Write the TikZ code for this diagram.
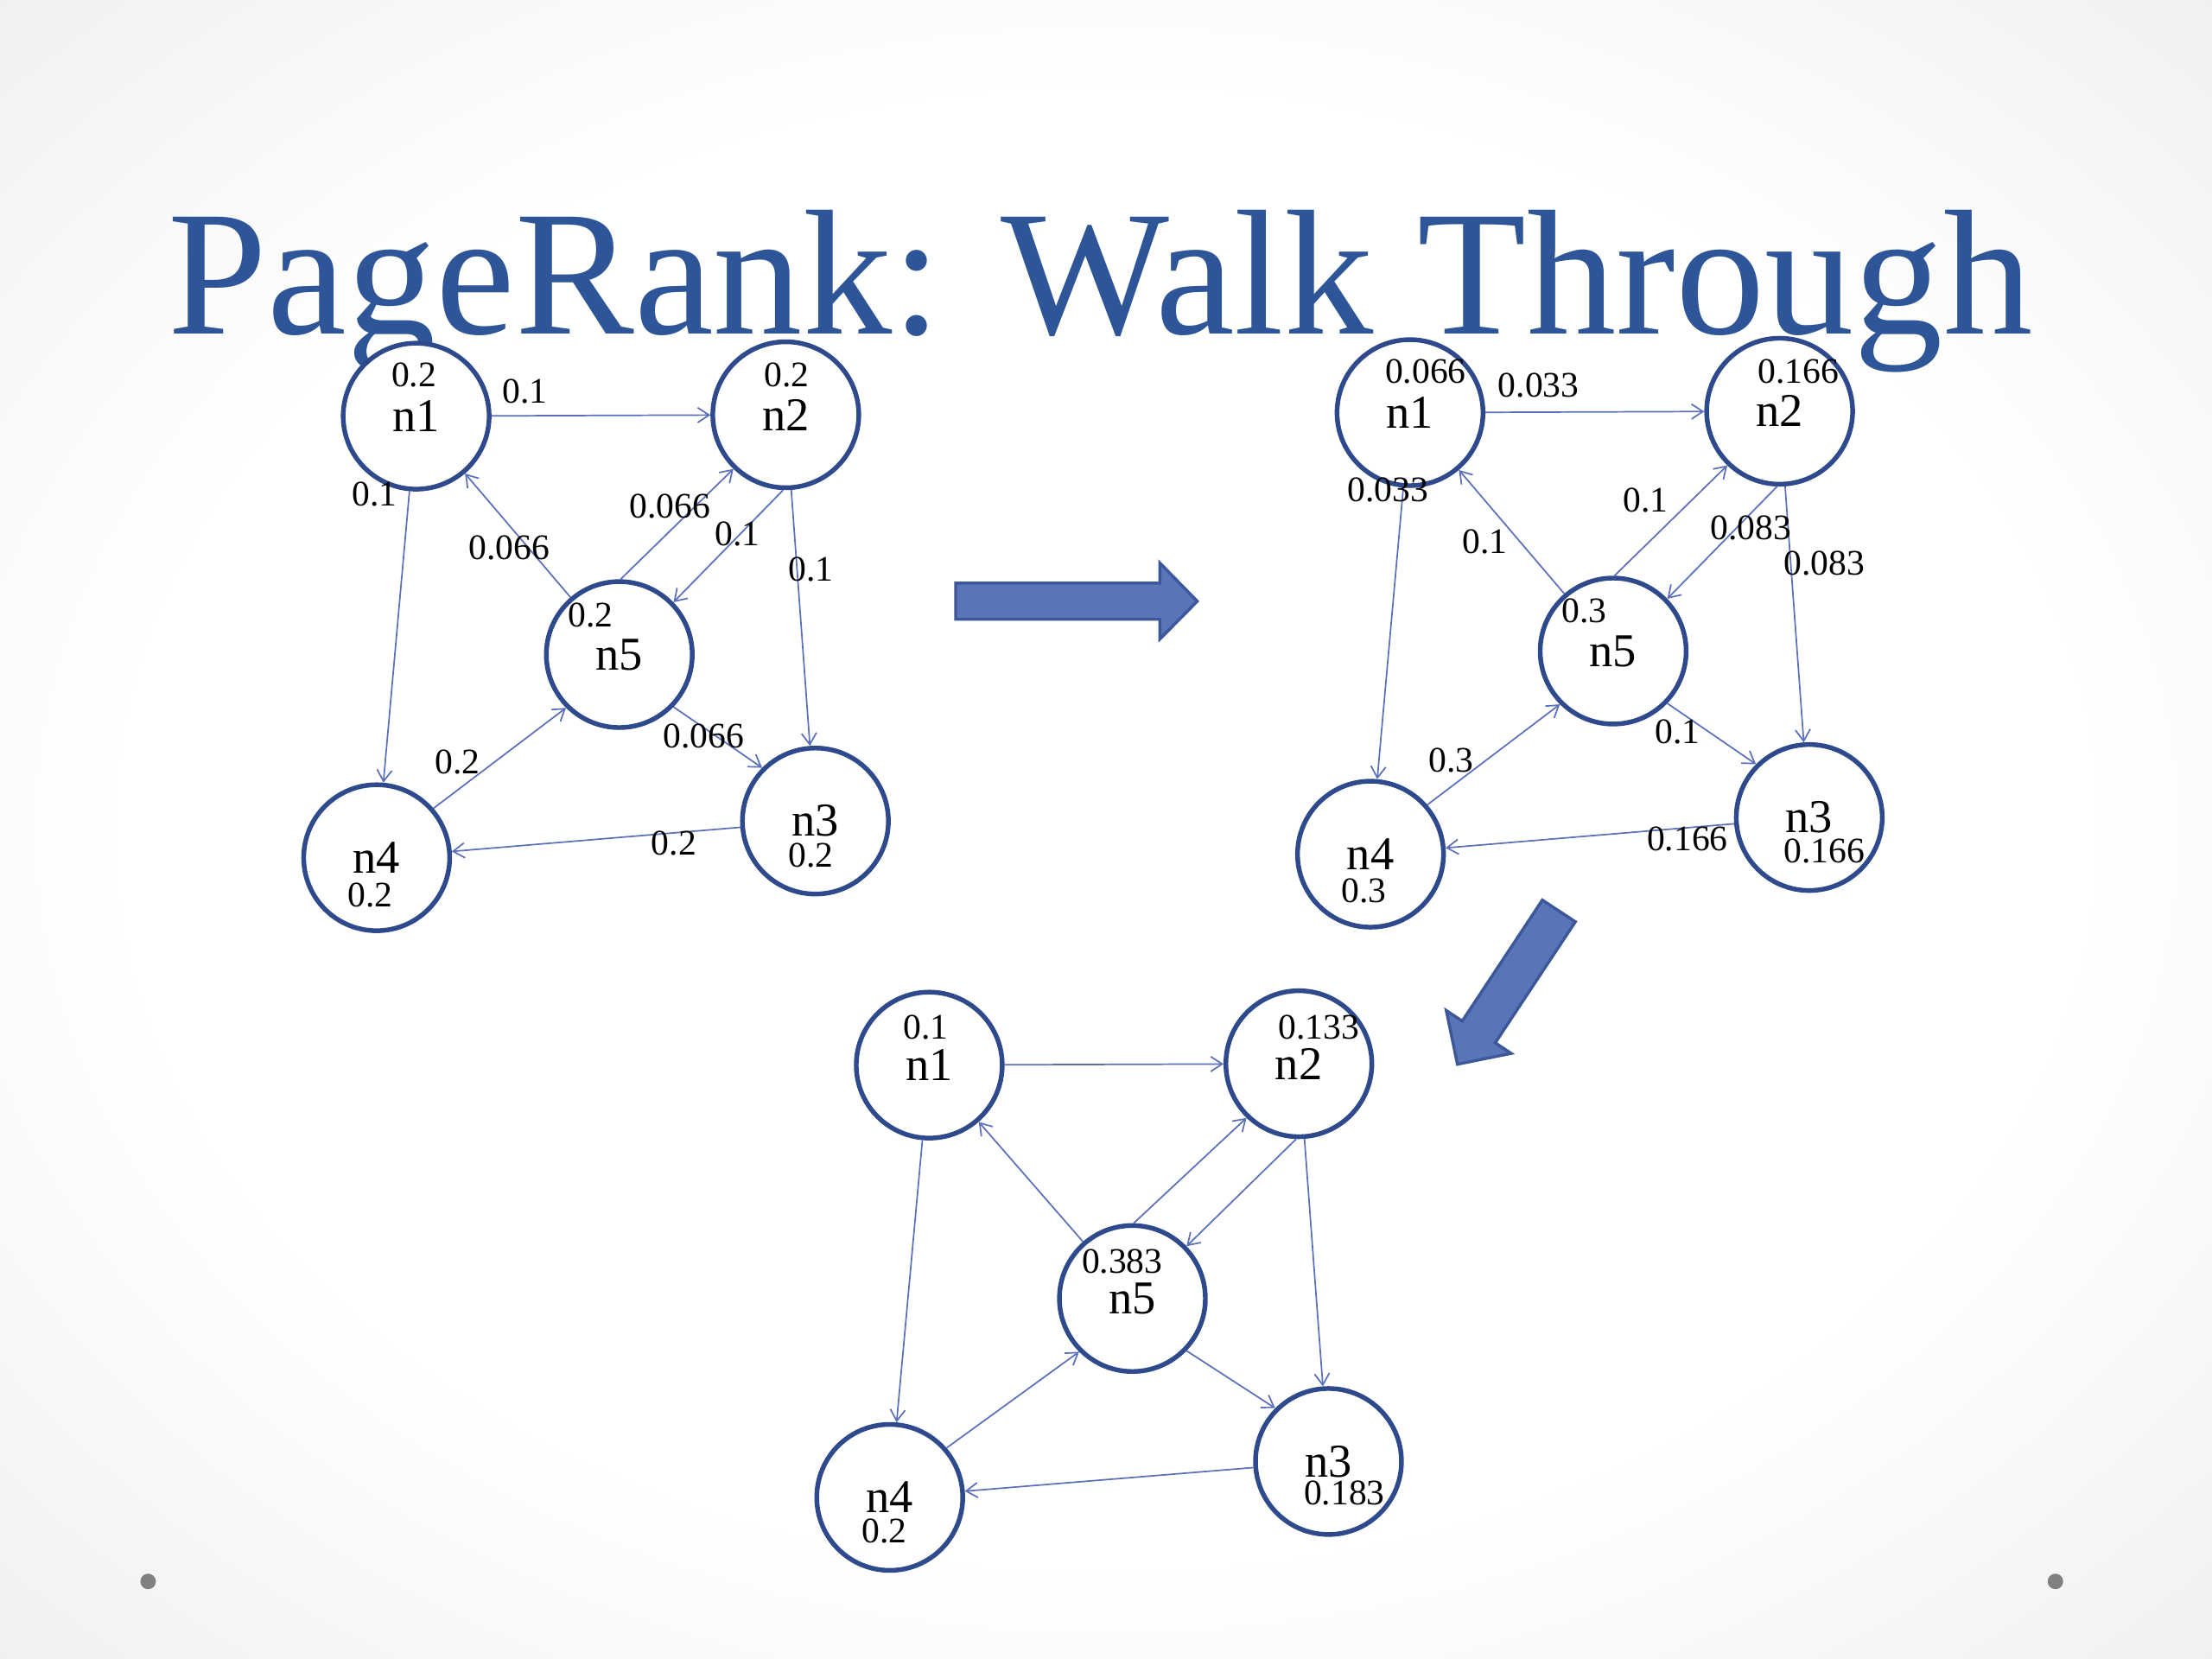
\documentclass[tikz,border=0pt]{standalone}
\usepackage{fontspec}
\newfontfamily\numfont{Liberation Serif}
\usepackage{tikz}
\usetikzlibrary{arrows.meta}
\definecolor{ring}{HTML}{2F4A8C}
\definecolor{edge}{HTML}{5B6FBA}
\definecolor{titleblue}{HTML}{2E5597}
\definecolor{blockfill}{HTML}{5A74BA}
\definecolor{blockline}{HTML}{3D5899}
\definecolor{dotgray}{HTML}{808080}
\pgfdeclareradialshading{slidebg}{\pgfpoint{0bp}{0bp}}{color(0bp)=(white); color(22bp)=(white); color(50bp)=(black!12); color(71bp)=(black!22)}

\tikzset{
 page/.style={circle,draw=ring,line width=1.9pt,fill=white,minimum size=2.07cm,
  inner sep=0pt,font=\numfont\fontsize{19}{21}\selectfont},
 link/.style={edge,line width=0.6pt,->},
 val/.style={inner sep=0pt,font=\numfont\fontsize{14.5}{16}\selectfont},
 bigarrow/.style={fill=blockfill,draw=blockline,line width=1.2pt,line join=miter},
}

% the five pages and their links, #1 is a prefix for the node names
\newcommand{\webgraph}[1]{%
 \node[page] (#1n1) at (295,295) {n1};
 \node[page] (#1n2) at (557,294) {n2};
 \node[page] (#1n5) at (439,464) {n5};
 \node[page] (#1n4) at (267,608) {n4};
 \node[page] (#1n3) at (578,582) {n3};
 \draw[link] (#1n1) -- (#1n2);
 \draw[link] (#1n1) -- (#1n4);
 \draw[link] (#1n2) -- (#1n3);
 \draw[link] (#1n3) -- (#1n4);
 \draw[link] (#1n5) -- (#1n1);
 \draw[link] (#1n5.89) -- (#1n2.226);
 \draw[link] (#1n2.268) -- (#1n5.44);
 \draw[link] (#1n4.41) -- (#1n5.225);
 \draw[link] (#1n5.-44) -- (#1n3.135);
}

\begin{document}
\begin{tikzpicture}[x=0.02cm,y=-0.02cm,>={Straight Barb[length=4.6pt,width=6pt]}]
 \useasboundingbox (0,0) rectangle (1568,1176);
 \shade[shading=slidebg] (0,0) rectangle (1568,1176);
 \fill[dotgray] (105,1121) circle (0.11cm);
 \fill[dotgray] (1457,1121) circle (0.11cm);

 \node[anchor=base west,inner sep=0pt,text=titleblue,
  font=\numfont\fontsize{72}{80}\selectfont] (title) at (119,237) {PageRank: Walk Through};

 % step 0
 \webgraph{a}
 \foreach \x/\y/\lbl [count=\i] in {293.5/266/0.2,557.8/266/0.2,418.6/436/0.2,
   574.7/606.2/0.2,262.6/634.4/0.2}
  \node[val] (av\i) at (\x,\y) {\lbl};
 \foreach \x/\y/\lbl [count=\i] in {372.2/277.2/0.1,265.4/350.3/0.1,361/388.3/0.066,
   474.9/358.8/0.066,522.7/378.4/0.1,574.7/403.8/0.1,498.8/521.9/0.066,
   324.4/540.1/0.2,477.7/597.8/0.2}
  \node[val] (aw\i) at (\x,\y) {\lbl};

 % step 1
 \begin{scope}[shift={(704.5,-2.5)}]
 \webgraph{b}
 \foreach \x/\y/\lbl [count=\i] in {306/265.7/0.066,570.4/265.7/0.166,418.5/435.8/0.3,
   588.7/605.9/0.166,262.5/634/0.3}
  \node[val] (bv\i) at (\x,\y) {\lbl};
 \foreach \x/\y/\lbl [count=\i] in {386.2/275.5/0.033,279.3/350/0.033,348.2/386.5/0.1,
   462.1/357/0.1,536.6/376.7/0.083,588.7/402/0.083,484.6/521.5/0.1,
   324.3/541.2/0.3,491.6/597.5/0.166}
  \node[val] (bw\i) at (\x,\y) {\lbl};
 \end{scope}

 % step 2
 \begin{scope}[shift={(363.7,466.2)},yscale=0.979]
 \webgraph{c}
 \foreach \x/\y/\lbl [count=\i] in {292.6/267.6/0.1,571/267.6/0.133,431.8/437.1/0.383,
   589.3/605.1/0.183,263.1/632.4/0.2}
  \node[val] (cv\i) at (\x,\y) {\lbl};
 \end{scope}

 % block arrows between the steps
 \draw[bigarrow] (677.4,413.4) -- (822.2,413.4) -- (822.2,399.1) -- (848.7,426.2)
  -- (822.2,453) -- (822.2,439) -- (677.4,439) -- cycle;
 \draw[bigarrow] (1093.3,638) -- (1116.7,653.4) -- (1059.9,739.2) -- (1071.2,746.7)
  -- (1033.1,754.4) -- (1025.2,716.3) -- (1036.5,723.8) -- cycle;
\end{tikzpicture}
\end{document}
